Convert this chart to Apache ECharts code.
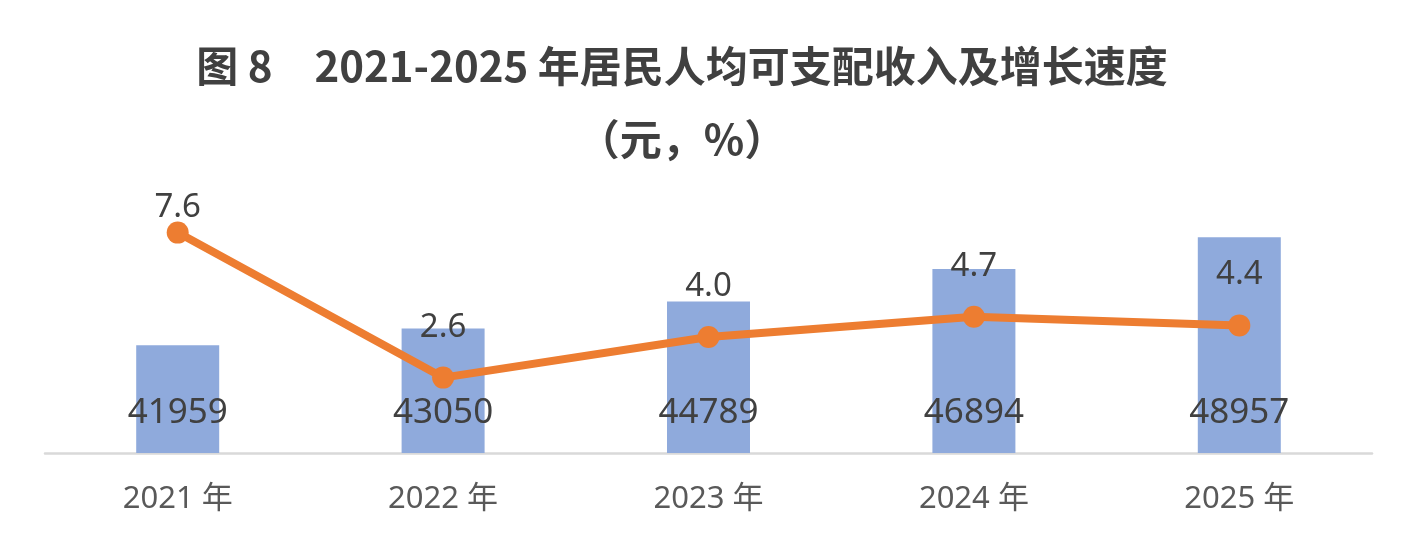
<!DOCTYPE html>
<html>
<head>
<meta charset="utf-8">
<script src="https://cdn.jsdelivr.net/npm/echarts@6/dist/echarts.min.js"></script>
<style>
  html, body { margin: 0; padding: 0; background: #fff; }
  #chart { width: 1422px; height: 546px; }
</style>
</head>
<body>
<div id="chart"></div>
<script>
var years = ['2021 年', '2022 年', '2023 年', '2024 年', '2025 年']
var income = [41959, 43050, 44789, 46894, 48957]
var growth = [7.6, 2.6, 4.0, 4.7, 4.4]

var numFont = "'Noto Sans', 'Noto Sans CJK SC', sans-serif"
var chart = echarts.init(document.getElementById('chart'))

chart.setOption({
  animation: false,
  title: {
    text: '图 8　2021-2025 年居民人均可支配收入及增长速度\n（元，%）',
    left: 677,
    top: 25,
    textAlign: 'center',
    textStyle: {
      fontFamily: "'Noto Sans CJK SC', sans-serif",
      fontSize: 42,
      fontWeight: 'bold',
      lineHeight: 73,
      color: '#404040'
    }
  },
  grid: { left: 45, right: 50, top: 221, bottom: 93 },
  xAxis: {
    type: 'category',
    data: years,
    axisLine: { lineStyle: { color: '#d9d9d9', width: 2.5 } },
    axisTick: { show: false },
    axisLabel: { margin: 31, fontSize: 31, color: '#595959', fontFamily: numFont }
  },
  yAxis: [
    { type: 'value', min: 35000, max: 50000, startValue: 35000, show: false, splitLine: { show: false } },
    { type: 'value', min: 0, max: 8, show: false, splitLine: { show: false } }
  ],
  series: [
    {
      name: '居民人均可支配收入',
      type: 'bar',
      data: income,
      barWidth: 83,
      itemStyle: { color: '#8faadc' },
      label: {
        show: true,
        position: 'insideBottom',
        distance: 22,
        fontSize: 35,
        color: '#404040',
        fontFamily: numFont
      }
    },
    {
      name: '增长速度',
      type: 'line',
      yAxisIndex: 1,
      data: growth.map(function (v, i) {
        // first label sits close to the point, as in the original
        return i === 0 ? { value: v, label: { distance: -2 } } : v
      }),
      symbol: 'circle',
      symbolSize: 22,
      lineStyle: { color: '#ed7d31', width: 8 },
      itemStyle: { color: '#ed7d31' },
      label: {
        show: true,
        position: 'top',
        distance: 23,
        fontSize: 33,
        color: '#404040',
        fontFamily: numFont,
        formatter: function (p) { return p.value.toFixed(1) }
      }
    }
  ]
})
</script>
</body>
</html>
